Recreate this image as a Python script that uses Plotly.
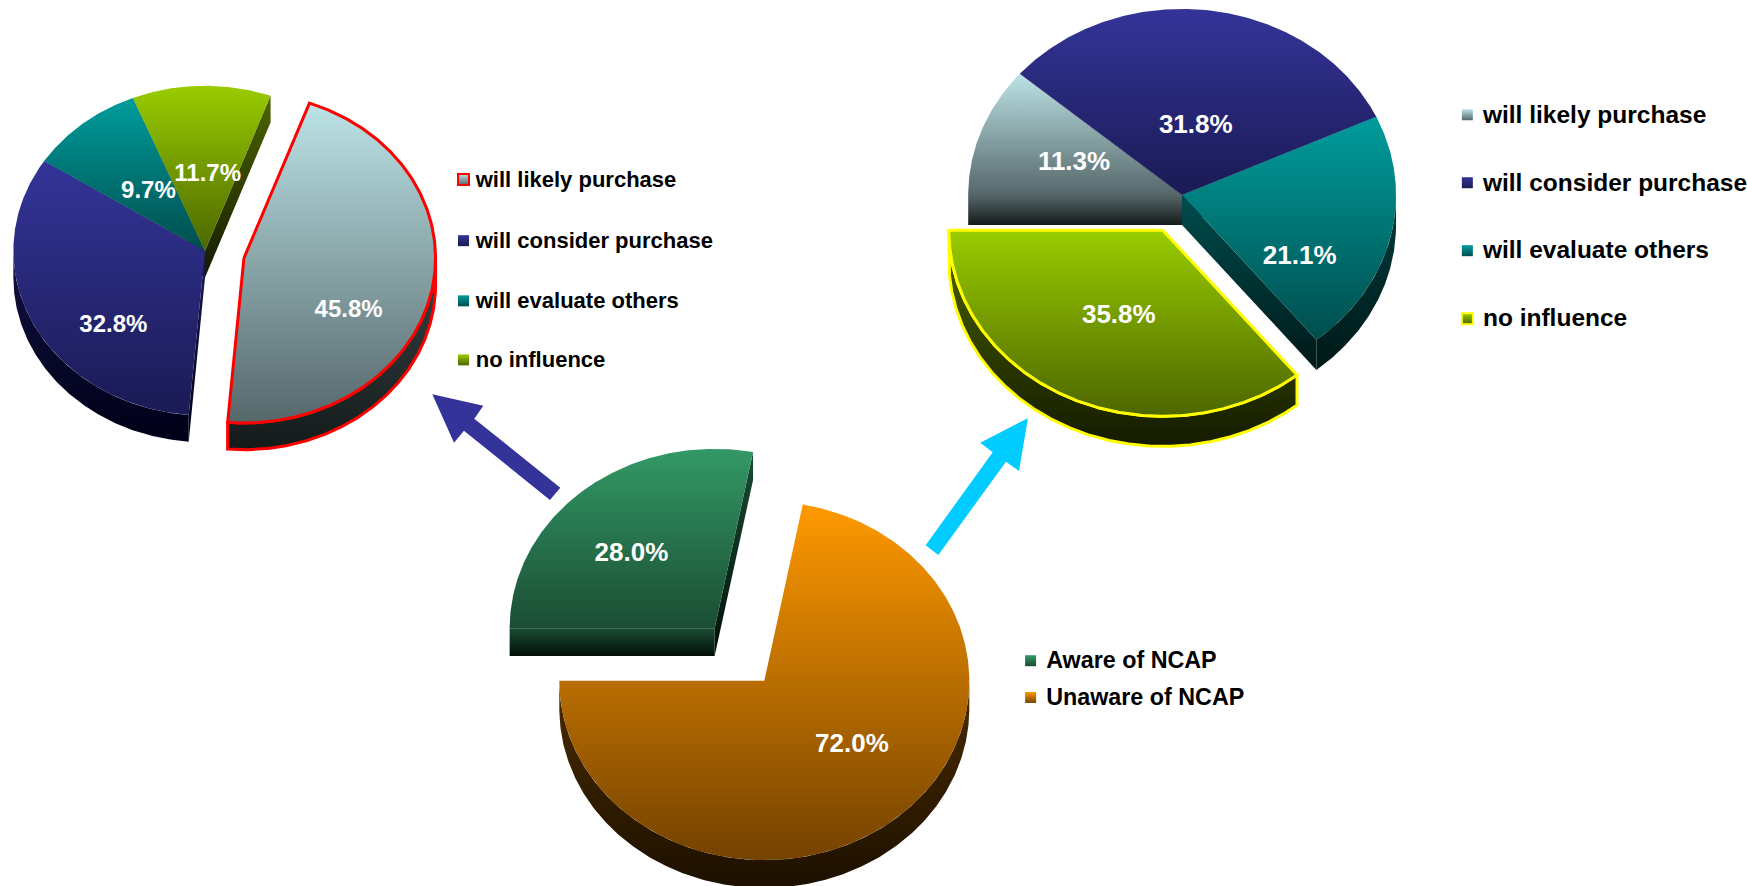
import numpy as np
import plotly.graph_objects as go

# ---------- data ----------
AWARE_LABELS = ["Aware of NCAP", "Unaware of NCAP"]
AWARE_VALUES = [28.0, 72.0]
INTENT_LABELS = ["will likely purchase", "will consider purchase", "will evaluate others", "no influence"]
AWARE_GROUP_VALUES = [45.8, 32.8, 9.7, 11.7]
UNAWARE_GROUP_VALUES = [11.3, 31.8, 21.1, 35.8]

# ---------- style: (top colour, bottom of surface, bottom of side) ----------
LIGHT = ("#bce3e6", "#56676a", "#141a1a")
NAVY = ("#343499", "#1a1a55", "#000018")
TEAL = ("#009c9c", "#004d4d", "#001818")
LIME = ("#99cc00", "#4d6600", "#141a00")
GREEN = ("#339966", "#1a4d33", "#020f08")
ORANGE = ("#ff9900", "#744200", "#1c1000")

W, H = 1747, 886
VW = 1568.0
VH = VW * H / W

PIES = [
    dict(values=AWARE_GROUP_VALUES, styles=[LIGHT, NAVY, TEAL, LIME], start=20.0,
         cx=184, cy=225, rx=172, ry=148, depth=24, explode=[0.208, 0, 0, 0],
         outline=["#ff0000", None, None, None], font=24,
         nudge=[(10, 32), (-5, 35), (4, 4), (4, 6)]),
    dict(values=UNAWARE_GROUP_VALUES, styles=[LIGHT, NAVY, TEAL, LIME], start=270.0,
         cx=1061, cy=175, rx=192, ry=167, depth=27, explode=[0, 0, 0, 0.21],
         outline=[None, None, None, "#ffff00"], font=26,
         nudge=[(-7, 1), (-1, 21), (12, 37), (2, 2)]),
    dict(values=AWARE_VALUES, styles=[GREEN, ORANGE], start=270.0,
         cx=686, cy=611, rx=184, ry=161, depth=25, explode=[0.38, 0],
         outline=[None, None], font=26,
         nudge=[(-16, -4), (20, -4)]),
]

LEGENDS = [
    dict(labels=INTENT_LABELS, styles=[LIGHT, NAVY, TEAL, LIME], x=416, text_x=427, font=22,
         y=[161, 216, 270, 323], outline=["#ff0000", None, None, None]),
    dict(labels=INTENT_LABELS, styles=[LIGHT, NAVY, TEAL, LIME], x=1317, text_x=1331, font=24.5,
         y=[103, 164, 225, 286], outline=[None, None, None, "#ffff00"]),
    dict(labels=AWARE_LABELS, styles=[GREEN, ORANGE], x=925, text_x=939, font=23.3,
         y=[593, 626], outline=[None, None]),
]

ARROWS = [
    dict(color="#333399", path=[(388, 353.9), (433.8, 364.1), (425.7, 375.8), (502.9, 437.7),
                                (493.6, 448.8), (416.4, 386.6), (407.5, 397.3)]),
    dict(color="#00ccff", path=[(922.6, 375.4), (914.6, 422.7), (902.9, 414.4), (842.2, 498.1),
                                (830.8, 489.4), (891, 405.9), (879.8, 397.3)]),
]

FONT = "Liberation Sans"


def ell(cx, cy, rx, ry, t):
    r = np.radians(t)
    return cx + rx * np.sin(r), cy - ry * np.cos(r)


def filled(x, y, c0, c1, y0, y1, line):
    return go.Scatter(x=x, y=y, mode="lines", fill="toself", line=line,
                      fillgradient=dict(type="vertical", colorscale=[[0, c0], [1, c1]], start=y0, stop=y1),
                      hoverinfo="skip", showlegend=False)


fig = go.Figure()
tops, sides = [], []
for pie in PIES:
    total = sum(pie["values"])
    a = pie["start"]
    lx, ly, lt = [], [], []
    for v, st, ex, ol, nd in zip(pie["values"], pie["styles"], pie["explode"], pie["outline"], pie["nudge"]):
        b = a + 360.0 * v / total
        mid = (a + b) / 2
        cx = pie["cx"] + ex * pie["rx"] * np.sin(np.radians(mid))
        cy = pie["cy"] - ex * pie["ry"] * np.cos(np.radians(mid))
        rx, ry, d = pie["rx"], pie["ry"], pie["depth"]
        ts = np.linspace(a, b, max(int(b - a) * 2, 2) + 1)
        ax, ay = ell(cx, cy, rx, ry, ts)
        # surface
        tx = [cx] + list(ax) + [cx]
        ty = [cy] + list(ay) + [cy]
        line = dict(color=ol, width=3) if ol else dict(width=0)
        tops.append(filled(tx, ty, st[0], st[1], min(ty), max(ty), line))
        order_key = abs(np.mod(mid, 360) - 180)
        # cut faces that look towards the viewer, each with its own gradient range
        for t, sign in ((a, -1), (b, 1)):
            if sign * np.sin(np.radians(t)) > 1e-9:
                ex_, ey_ = ell(cx, cy, rx, ry, t)
                py = [cy, ey_, ey_ + d, cy + d, cy]
                sides.append((order_key, filled([cx, ex_, ex_, cx, cx], py, st[1], st[2], min(py), max(py), line)))
        # outer band: gradient over the whole slice height
        nm = np.mod(ts, 360)
        front = ts[(nm >= 90) & (nm <= 270)]
        if len(front) > 1:
            fx, fy = ell(cx, cy, rx, ry, front)
            px = list(fx) + list(fx[::-1]) + [fx[0]]
            py = list(fy) + list(fy[::-1] + d) + [fy[0]]
            sides.append((order_key, filled(px, py, st[1], st[2], min(ty), max(py), line)))
        bx, by = ell(cx, cy, rx * 0.5, ry * 0.5, mid)
        lx.append(bx + nd[0])
        ly.append(by + nd[1])
        lt.append(f"{v:.1f}%")
        a = b
    pie["labels_xyt"] = (lx, ly, lt)

for _, tr in sorted(sides, key=lambda s: -s[0]):
    fig.add_trace(tr)
for tr in tops:
    fig.add_trace(tr)

for pie in PIES:
    lx, ly, lt = pie["labels_xyt"]
    fig.add_trace(go.Scatter(x=lx, y=ly, text=lt, mode="text", textposition="middle center",
                             textfont=dict(family=FONT, size=pie["font"], color="white", weight="bold"),
                             hoverinfo="skip", showlegend=False))

for lg in LEGENDS:
    for lab, st, y, ol in zip(lg["labels"], lg["styles"], lg["y"], lg["outline"]):
        fig.add_trace(go.Scatter(
            x=[lg["x"]], y=[y], mode="markers",
            marker=dict(symbol="square", size=11, color=st[0], gradient=dict(type="vertical", color=st[1]),
                        line=dict(color=ol, width=2) if ol else dict(width=0)),
            hoverinfo="skip", showlegend=False))
        fig.add_trace(go.Scatter(
            x=[lg["text_x"]], y=[y + 1.5], text=[lab], mode="text", textposition="middle right",
            textfont=dict(family=FONT, size=lg["font"], color="black", weight="bold"),
            cliponaxis=False, hoverinfo="skip", showlegend=False))

shapes = []
for ar in ARROWS:
    path = "M " + " L ".join(f"{x},{y}" for x, y in ar["path"]) + " Z"
    shapes.append(dict(type="path", path=path, xref="x", yref="y", fillcolor=ar["color"], line=dict(width=0)))

fig.update_layout(
    width=W, height=H, margin=dict(l=0, r=0, t=0, b=0),
    paper_bgcolor="white", plot_bgcolor="white", shapes=shapes, showlegend=False,
    xaxis=dict(range=[0, VW], visible=False, fixedrange=True),
    yaxis=dict(range=[VH, 0], visible=False, fixedrange=True),
)
fig.write_html("out.html", post_script="document.body.style.margin='0';", config=dict(displayModeBar=False))
